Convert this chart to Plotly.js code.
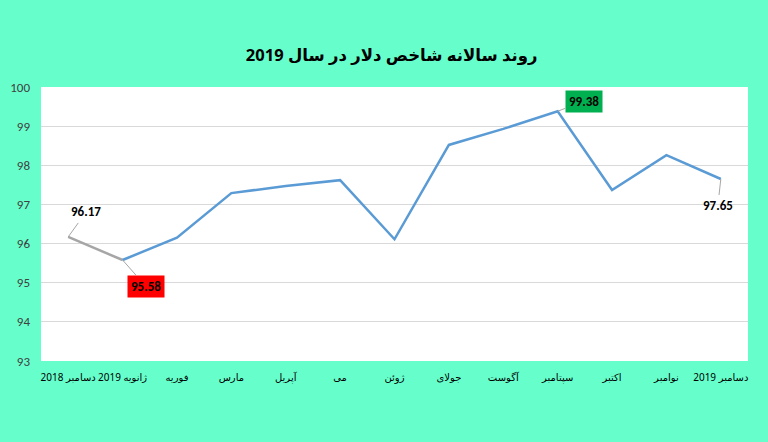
<!DOCTYPE html>
<html><head><meta charset="utf-8">
<script src="https://cdn.plot.ly/plotly-3.0.1.min.js"></script>
<style>body{margin:0;background:#66FFCC}</style>
</head><body>
<div id="chart" style="width:768px;height:442px"></div>
<script>
const categories = ["دسامبر 2018","ژانویه 2019","فوریه","مارس","آپریل","می","ژوئن","جولای","آگوست","سپتامبر","اکتبر","نوامبر","دسامبر 2019"];
const values = [96.17,95.58,96.15,97.29,97.47,97.62,96.11,98.52,98.93,99.38,97.37,98.26,97.65];
const yTicks = [93,94,95,96,97,98,99,100];

const traces = [
  {x: categories.slice(0,2), y: values.slice(0,2), type:'scatter', mode:'lines',
   line:{color:'#A6A6A6', width:2.5}, hoverinfo:'skip'},
  {x: categories.slice(1), y: values.slice(1), type:'scatter', mode:'lines',
   line:{color:'#5B9BD5', width:2.5}, hoverinfo:'skip'}
];

const lbl = (i, ax, ay, bg) => ({
  x: categories[i], y: values[i], text: '<b>' + values[i].toFixed(2) + '</b>',
  showarrow: true, arrowhead: 0, arrowwidth: 1, arrowcolor: '#A6A6A6',
  ax: ax, ay: ay, bgcolor: bg, borderpad: 3,
  font: {family: 'Carlito, Calibri, "Liberation Sans", Arial', size: 13, color: '#000'}
});

const layout = {
  width: 768, height: 442,
  paper_bgcolor: '#66FFCC', plot_bgcolor: '#FFFFFF',
  margin: {l: 41, r: 20, t: 87, b: 81},
  title: {text: '<b>روند سالانه شاخص دلار در سال 2019</b>', x: 0.51, xanchor: 'center', y: 0.875, yanchor: 'middle',
          font: {family: '"Noto Sans", "DejaVu Sans", Arial', size: 16.5, color: '#000'}},
  showlegend: false,
  xaxis: {type: 'category', range: [-0.5, 12.5], showgrid: false, zeroline: false, showline: false,
          ticks: '', ticklabelstandoff: 9,
          tickfont: {family: '"Noto Sans", "DejaVu Sans", Arial', size: 10, color: '#000'},
          fixedrange: true},
  yaxis: {range: [93, 100], tickvals: yTicks, ticktext: yTicks.map(String), showgrid: true,
          gridcolor: '#D9D9D9', gridwidth: 1, zeroline: false, showline: false, ticks: '',
          tickfont: {family: 'Carlito, Calibri, "Liberation Sans", Arial', size: 13, color: '#404040'},
          ticklabelstandoff: 10, fixedrange: true},
  annotations: [
    lbl(0, 18, -25, 'rgba(0,0,0,0)'),
    lbl(1, 23, 26, '#FF0000'),
    lbl(9, 26, -10, '#00B050'),
    lbl(12, -3, 27, 'rgba(0,0,0,0)')
  ]
};

Plotly.newPlot('chart', traces, layout, {displayModeBar: false, staticPlot: true});
</script>
</body></html>
